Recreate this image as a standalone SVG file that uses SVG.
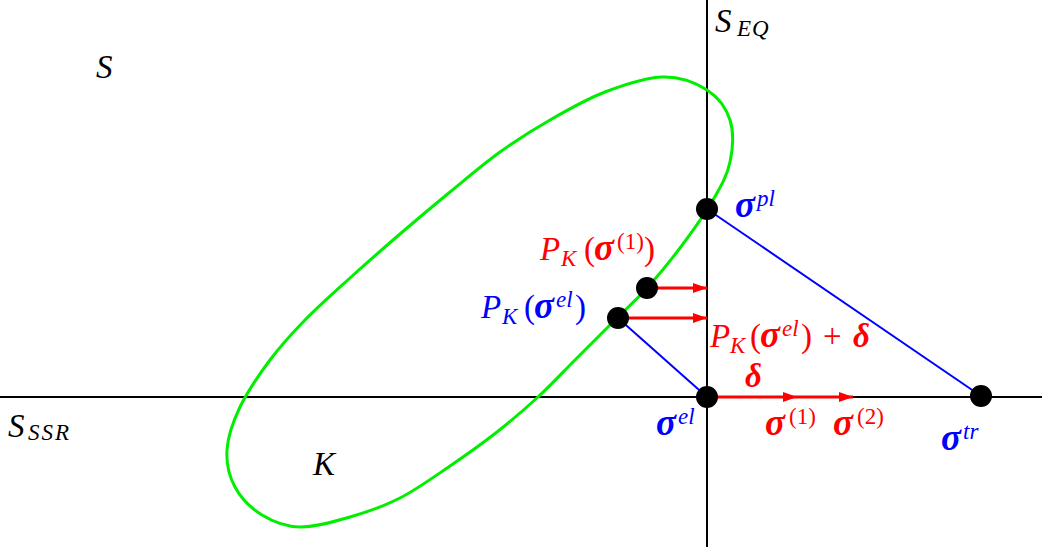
<svg xmlns="http://www.w3.org/2000/svg" width="1042" height="547" viewBox="0 0 1042 547">
<style>
.m{font-family:"Liberation Serif",serif;font-style:italic;font-size:33px}
.s{font-size:23px}
.n{font-style:normal}
.b{font-weight:bold}
.g{font-weight:bold;font-size:37px}
.blue{fill:#0000ff}
.red{fill:#ff0000}
.blk{fill:#000}
.axis{stroke:#000;stroke-width:2;fill:none}
.bl{stroke:#0000ff;stroke-width:2;fill:none}
.rd{stroke:#ff0000;stroke-width:3;fill:none}
.dot{fill:#000}
</style>
<defs>
<marker id="ah" markerWidth="14" markerHeight="10" refX="14" refY="5" orient="auto" markerUnits="userSpaceOnUse">
<path d="M0,0 L14,5 L0,10 Z" fill="#ff0000"/>
</marker>
</defs>
<rect width="1042" height="547" fill="#fff"/>
<g id="axes">
<line class="axis" x1="0" y1="397" x2="1042" y2="397"/>
<line class="axis" x1="707" y1="0" x2="707" y2="547"/>
</g>
<g id="setK">
<path fill="none" stroke="#00ee00" stroke-width="3" d="M663,77 C680,76.67 695.83,82.83 707,90 C718.17,97.17 726.17,108 730,120 C733.83,132 732.83,148.67 730,162 C727.17,175.33 721.33,185.67 713,200 C704.67,214.33 691,233.33 680,248 C669,262.67 658.33,275.5 647,288 C635.67,300.5 624,311 612,323 C600,335 587.33,347.67 575,360 C562.67,372.33 551,385 538,397 C525,409 511.67,420.5 497,432 C482.33,443.5 466.17,455 450,466 C433.83,477 416.67,489.5 400,498 C383.33,506.5 366.67,512.17 350,517 C333.33,521.83 314.67,527.33 300,527 C285.33,526.67 272.83,521.67 262,515 C251.17,508.33 240.83,497.83 235,487 C229.17,476.17 226.17,463.33 227,450 C227.83,436.67 232.83,422 240,407 C247.17,392 259.17,374.5 270,360 C280.83,345.5 291.67,333.67 305,320 C318.33,306.33 334.17,292.33 350,278 C365.83,263.67 383.33,248.33 400,234 C416.67,219.67 433.33,205.67 450,192 C466.67,178.33 483.33,164 500,152 C516.67,140 532.5,130 550,120 C567.5,110 586.17,99.17 605,92 C623.83,84.83 646,77.33 663,77 Z"/>
</g>
<g id="connectors">
<line class="bl" x1="618" y1="318" x2="707" y2="397"/>
<line class="bl" x1="707" y1="209" x2="981" y2="396"/>
<line class="rd" x1="647" y1="288" x2="707" y2="288" marker-end="url(#ah)"/>
<line class="rd" x1="618" y1="318" x2="707" y2="318" marker-end="url(#ah)"/>
<line class="rd" x1="707" y1="397" x2="797" y2="397" marker-end="url(#ah)"/>
<line class="rd" x1="797" y1="397" x2="853" y2="397" marker-end="url(#ah)"/>
</g>
<g id="labels">
<text class="m blk" x="96" y="78">S</text>
<text class="m blk" x="715" y="32">S<tspan class="s" x="737" dy="4" letter-spacing="1">EQ</tspan></text>
<text class="m blk" x="8" y="437">S<tspan class="s" x="28" dy="3" letter-spacing="2">SSR</tspan></text>
<text class="m blk" x="313" y="475">K</text>
</g>
<g id="node-sigma-pl">
<circle class="dot" cx="707" cy="209" r="11"/>
<text class="m blue" x="735" y="217"><tspan class="g">σ</tspan><tspan class="s" x="757" dy="-11">pl</tspan></text>
</g>
<g id="node-pk-sigma1">
<circle class="dot" cx="647" cy="288" r="11"/>
<text class="m red" x="540" y="260">P<tspan class="s" x="561" dy="6">K</tspan><tspan class="n" x="584" dy="-6">(</tspan><tspan class="g" x="594">σ</tspan><tspan class="s n" x="617" dy="-11">(1)</tspan><tspan class="n" x="644" dy="11">)</tspan></text>
</g>
<g id="node-pk-sigmael">
<circle class="dot" cx="618" cy="318" r="11"/>
<text class="m blue" x="481" y="318">P<tspan class="s" x="502" dy="6">K</tspan><tspan class="n" x="524" dy="-6">(</tspan><tspan class="g" x="534">σ</tspan><tspan class="s" x="556" dy="-11">el</tspan><tspan class="n" x="575" dy="11">)</tspan></text>
</g>
<g id="node-pk-plus-delta">
<text class="m red" x="710" y="347">P<tspan class="s" x="730" dy="6">K</tspan><tspan class="n" x="750" dy="-6">(</tspan><tspan class="g" x="760">σ</tspan><tspan class="s" x="782" dy="-11">el</tspan><tspan class="n" x="801" dy="11">)</tspan><tspan class="n" x="823">+</tspan><tspan class="b" x="853">δ</tspan></text>
</g>
<g id="node-delta">
<text class="m red b" x="745" y="387">δ</text>
</g>
<g id="node-sigma-el">
<circle class="dot" cx="707" cy="397" r="11"/>
<text class="m blue" x="656" y="435"><tspan class="g">σ</tspan><tspan class="s" x="678" dy="-11">el</tspan></text>
</g>
<g id="node-sigma1">
<text class="m red" x="765" y="435"><tspan class="g">σ</tspan><tspan class="s n" x="789" dy="-11">(1)</tspan></text>
</g>
<g id="node-sigma2">
<text class="m red" x="833" y="435"><tspan class="g">σ</tspan><tspan class="s n" x="857" dy="-11">(2)</tspan></text>
</g>
<g id="node-sigma-tr">
<circle class="dot" cx="981" cy="396" r="11"/>
<text class="m blue" x="941" y="450"><tspan class="g">σ</tspan><tspan class="s" x="963" dy="-11">tr</tspan></text>
</g>
</svg>
